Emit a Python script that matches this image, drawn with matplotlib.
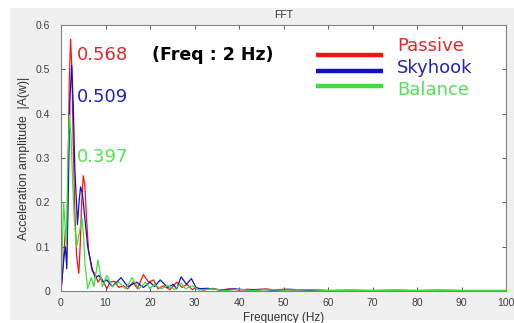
import matplotlib
matplotlib.use("Agg")
import matplotlib.pyplot as plt
from matplotlib.patches import Rectangle

# ---- data ----
passive_f = [0, 0.5, 1.0, 1.3, 1.6, 1.85, 2.15, 2.45, 2.75, 3.1, 3.5, 4.0, 4.3, 4.65, 5.0, 5.35,
             5.7, 6.2, 7.0, 7.6, 8.3, 9.0, 9.6, 10.3, 11.0, 12.0, 13.0, 14.0, 15.0, 16.2, 17.2,
             18.5, 19.7, 20.8, 21.8, 23.0, 24.5, 26.0, 27.2, 28.3, 29.5, 30.5, 32, 34, 36, 38,
             40, 42, 44, 46, 48, 50, 52, 55, 60, 65, 70, 75, 80, 85, 90, 95, 100]
passive_a = [0, 0.06, 0.14, 0.11, 0.28, 0.47, 0.568, 0.50, 0.33, 0.18, 0.08, 0.04, 0.1, 0.2, 0.26, 0.24,
             0.17, 0.09, 0.045, 0.04, 0.02, 0.03, 0.02, 0.005, 0.02, 0.022, 0.008, 0.012, 0.005, 0.02, 0.005,
             0.037, 0.02, 0.025, 0.005, 0.012, 0.003, 0.02, 0.008, 0.015, 0.003, 0.008, 0.002, 0.006, 0.002, 0.005,
             0.002, 0.004, 0.001, 0.005, 0.002, 0.004, 0.002, 0.003, 0.001, 0.002, 0.001, 0.002, 0.001, 0.002, 0.001, 0.001, 0.001]

skyhook_f = [0, 0.7, 1.0, 1.3, 1.6, 2.0, 2.4, 2.75, 3.1, 3.7, 4.05, 4.4, 4.8, 5.2, 6.0, 7.0,
             7.7, 8.5, 9.5, 10.3, 11.5, 13.5, 15.0, 17.0, 18.5, 20.0, 21.0, 22.3, 24.0, 25.2,
             26.0, 27.0, 28.2, 29.3, 30.5, 33, 36, 39, 42, 45, 48, 51, 55, 60, 70, 80, 90, 100]
skyhook_a = [0, 0.08, 0.1, 0.05, 0.2, 0.43, 0.509, 0.42, 0.28, 0.15, 0.2, 0.235, 0.22, 0.18, 0.1, 0.05,
             0.03, 0.035, 0.02, 0.025, 0.01, 0.03, 0.01, 0.02, 0.008, 0.02, 0.01, 0.025, 0.008, 0.015,
             0.005, 0.032, 0.015, 0.028, 0.005, 0.006, 0.002, 0.005, 0.002, 0.004, 0.001, 0.004, 0.002, 0.001, 0.001, 0.001, 0.001, 0.001]

balance_f = [0, 0.6, 1.2, 1.55, 1.9, 2.25, 2.6, 3.0, 3.5, 4.1, 4.7, 5.1, 5.4, 6.0, 6.8, 7.4,
             8.3, 9.3, 10.3, 11.5, 13.0, 14.5, 16.0, 17.5, 19.0, 20.0, 21.0, 22.5, 24.0, 25.5,
             27.0, 28.0, 29.5, 31, 34, 37, 40, 43, 46, 50, 55, 60, 70, 80, 90, 100]
balance_a = [0, 0.2, 0.1, 0.3, 0.397, 0.35, 0.25, 0.16, 0.1, 0.13, 0.165, 0.12, 0.06, 0.005, 0.03, 0.01,
             0.07, 0.01, 0.035, 0.01, 0.02, 0.005, 0.03, 0.005, 0.02, 0.005, 0.015, 0.005, 0.012, 0.003,
             0.018, 0.005, 0.012, 0.002, 0.005, 0.001, 0.004, 0.001, 0.003, 0.002, 0.003, 0.001, 0.001, 0.001, 0.001, 0.001]

series_names = ["Passive", "Skyhook", "Balance"]
peak_labels = ["0.568", "0.509", "0.397"]
x_ticks = [0, 10, 20, 30, 40, 50, 60, 70, 80, 90, 100]
y_ticks = [0, 0.1, 0.2, 0.3, 0.4, 0.5, 0.6]
y_tick_labels = ["0", "0.1", "0.2", "0.3", "0.4", "0.5", "0.6"]

line_colors = ["#ff1010", "#1010c8", "#3ce03c"]
text_colors = ["#e8262a", "#2424b4", "#55e055"]

fig = plt.figure(figsize=(5.14, 3.23), dpi=100, facecolor="white")
fig.patches.append(Rectangle((10 / 514, 3 / 323), 1, 1 - 11 / 323, transform=fig.transFigure,
                             facecolor="#f0f0f0", edgecolor="none", zorder=-10))
ax = fig.add_axes([61 / 514, 32 / 323, 445 / 514, 266 / 323])
ax.set_facecolor("white")

for f, a, c in zip([passive_f, skyhook_f, balance_f], [passive_a, skyhook_a, balance_a], line_colors):
    ax.plot(f, a, color=c, lw=0.9)

ax.set_xlim(0, 100)
ax.set_ylim(0, 0.6)
ax.set_xticks(x_ticks)
ax.set_yticks(y_ticks)
ax.set_yticklabels(y_tick_labels)
for lab in ax.get_xticklabels() + ax.get_yticklabels():
    lab.set_fontfamily("Liberation Sans")
    lab.set_fontsize(7.5)
ax.tick_params(direction="in", top=True, right=True, length=3, width=0.6,
               colors="#404040", labelcolor="#404040")
ax.tick_params(axis="y", pad=8)
ax.tick_params(axis="x", pad=5)
for s in ax.spines.values():
    s.set_color("#808080")
    s.set_linewidth(0.8)

ax.set_title("FFT", fontfamily="Liberation Sans", fontsize=7.5, color="#333333", pad=5)
ax.set_xlabel("Frequency (Hz)", fontfamily="Liberation Sans", fontsize=8.5, color="#333333", labelpad=3)
ax.set_ylabel("Acceleration amplitude  |A(w)|", fontfamily="Liberation Sans", fontsize=8.8,
              color="#333333", labelpad=4)

# peak value annotations
ax.text(3.6, 0.532, peak_labels[0], color=text_colors[0], fontsize=13, family="DejaVu Sans", va="center")
ax.text(3.6, 0.437, peak_labels[1], color=text_colors[1], fontsize=13, family="DejaVu Sans", va="center")
ax.text(3.6, 0.302, peak_labels[2], color=text_colors[2], fontsize=13, family="DejaVu Sans", va="center")
ax.text(20.5, 0.532, "(Freq : 2 Hz)", color="black", fontsize=12.5, fontweight="bold",
        family="DejaVu Sans", va="center")

# manual legend
line_y = [0.532, 0.496, 0.462]
text_y = [0.553, 0.504, 0.454]
for ly, ty, c, tc, name in zip(line_y, text_y, line_colors, text_colors, series_names):
    ax.plot([57.3, 72.4], [ly, ly], color=c, lw=3.2, solid_capstyle="butt")
    ax.text(75.5, ty, name, color=tc, fontsize=13, family="DejaVu Sans", va="center")

fig.savefig("out.png", dpi=100, facecolor=fig.get_facecolor())
